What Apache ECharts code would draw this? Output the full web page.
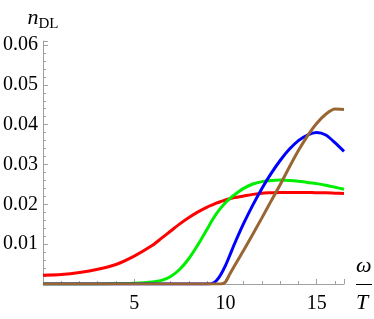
<!DOCTYPE html>
<html><head><meta charset="utf-8">
<script src="https://cdn.jsdelivr.net/npm/echarts@6/dist/echarts.min.js"></script>
<style>html,body{margin:0;padding:0;background:#fff}#c{width:374px;height:319px}</style>
</head><body><div id="c"></div>
<script>
const xs = [0,1,2,3,4,5,6,6.5,7,7.5,8,8.5,9,9.25,9.5,9.75,10,10.25,10.5,11,11.5,12,12.5,13,13.5,14,14.5,15,15.5,16,16.5];
const red   = [0.0022,0.0024,0.0029,0.0037,0.0049,0.0070,0.0097,0.0115,0.0133,0.0151,0.0167,0.0181,0.0193,0.0198,0.0203,0.0207,0.0211,0.0214,0.0217,0.0221,0.0225,0.0228,0.0229,0.0230,0.0230,0.0230,0.0230,0.0229,0.0229,0.0228,0.0227];
const green = [0,0,0,0.00002,0.0001,0.0002,0.0005,0.0009,0.0019,0.0037,0.0064,0.0099,0.0138,0.0158,0.0176,0.0191,0.0204,0.0215,0.0224,0.0240,0.0251,0.0257,0.0260,0.0261,0.0260,0.0258,0.0255,0.0252,0.0248,0.0243,0.0238];
const blue  = [0,0,0,0,0,0,0,0,0,0,0,0,0,0.0001,0.0008,0.0024,0.0046,0.0073,0.0101,0.0152,0.0198,0.0240,0.0277,0.0310,0.0338,0.0360,0.0374,0.0380,0.0374,0.0355,0.0333];
const brown = [0,0,0,0,0,0,0,0,0,0,0,0,0,0,0,0,0.0005,0.0026,0.0046,0.0085,0.0125,0.0166,0.0208,0.0249,0.0293,0.0335,0.0372,0.0403,0.0426,0.0439,0.0438];
const seriesNames = ['red','green','blue','brown'];
const seriesColors = ['#ff0000','#00ee00','#0000ff','#996633'];
const seriesValues = [red, green, blue, brown];

const axisGray = '#a0a0a0';
const font = 'Liberation Serif';
const chart = echarts.init(document.getElementById('c'));
chart.setOption({
  animation: false,
  grid: {left: 40, right: 30, top: 41, bottom: 35},
  xAxis: {
    type: 'value', min: 0, max: 16.5, interval: 5,
    axisLine: {lineStyle: {color: axisGray, width: 1}},
    axisTick: {inside: true, length: 5, lineStyle: {color: axisGray}},
    minorTick: {show: true, splitNumber: 5, length: 3, lineStyle: {color: axisGray}},
    splitLine: {show: false},
    axisLabel: {showMinLabel: false, showMaxLabel: false, color: '#000', fontFamily: font, fontSize: 20, margin: 10}
  },
  yAxis: {
    type: 'value', min: 0, max: 0.061, interval: 0.01,
    axisLine: {show: true, lineStyle: {color: axisGray, width: 1}},
    axisTick: {show: true, inside: true, length: 5, lineStyle: {color: axisGray}},
    minorTick: {show: true, splitNumber: 5, length: 3, lineStyle: {color: axisGray}},
    splitLine: {show: false},
    axisLabel: {showMinLabel: false, showMaxLabel: false, color: '#000', fontFamily: font, fontSize: 20, margin: 5,
      formatter: v => v.toFixed(2)},
    name: '{n|n}{s|DL}', nameLocation: 'end', nameGap: 12,
    nameTextStyle: {rich: {
      n: {fontFamily: font, fontStyle: 'italic', fontSize: 22, color: '#000', verticalAlign: 'bottom'},
      s: {fontFamily: font, fontSize: 15, color: '#000', verticalAlign: 'bottom', padding: [0,0,-3,0]}
    }}
  },
  graphic: [
    {type: 'text', left: 356, top: 255, style: {text: 'ω', fontFamily: font, fontStyle: 'italic', fontSize: 22, fill: '#000'}},
    {type: 'line', shape: {x1: 356, y1: 284.5, x2: 372, y2: 284.5}, style: {stroke: '#000', lineWidth: 1}},
    {type: 'text', left: 356, top: 292, style: {text: 'T', fontFamily: font, fontStyle: 'italic', fontSize: 22, fill: '#000'}}
  ],
  series: seriesValues.map((vals, i) => ({
    name: seriesNames[i], type: 'line', showSymbol: false, smooth: 0.25,
    lineStyle: {color: seriesColors[i], width: 3},
    data: xs.map((x, j) => [x, vals[j]])
  }))
});
</script></body></html>
